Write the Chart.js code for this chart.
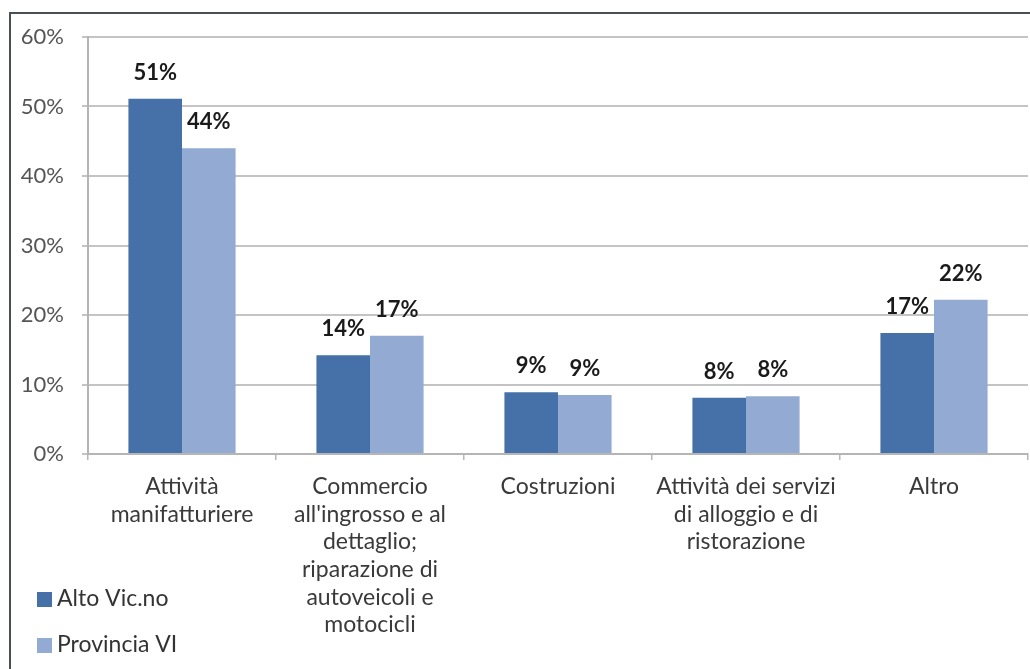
<!DOCTYPE html>
<html lang="it">
<head>
  <meta charset="UTF-8" />
  <title>Settori</title>
  <script src="https://cdn.jsdelivr.net/npm/chart.js"></script>
  <style>
    html, body { margin: 0; padding: 0; background: #fff; }
    #wrap { position: relative; width: 1030px; height: 669px; overflow: hidden; }
    #frame { position: absolute; left: 9px; top: 12px; width: 1030px; height: 700px;
             border-left: 2px solid #4a4f55; border-top: 2px solid #4a4f55; }
    canvas { position: absolute; left: 0; top: 0; }
  </style>
</head>
<body>
  <div id="wrap">
    <div id="frame"></div>
    <canvas id="chart" width="1030" height="669"></canvas>
  </div>

  <script>
    const categories = [
      ['Attività', 'manifatturiere'],
      ['Commercio', "all'ingrosso e al", 'dettaglio;', 'riparazione di', 'autoveicoli e', 'motocicli'],
      ['Costruzioni'],
      ['Attività dei servizi', 'di alloggio e di', 'ristorazione'],
      ['Altro']
    ];
    const altoVicno = [51.1, 14.2, 8.9, 8.1, 17.4];
    const provinciaVI = [44.0, 17.0, 8.5, 8.3, 22.2];
    const seriesNames = ['Alto Vic.no', 'Provincia VI'];
    const yTicks = [0, 10, 20, 30, 40, 50, 60];

    const FONT = 'Lato, "Open Sans", sans-serif';

    // value labels above bars
    const valueLabels = {
      id: 'valueLabels',
      afterDatasetsDraw(chart) {
        const ctx = chart.ctx;
        ctx.save();
        ctx.font = 'bold 22px ' + FONT;
        ctx.fillStyle = '#1a1a1a';
        ctx.textAlign = 'center';
        ctx.textBaseline = 'middle';
        chart.data.datasets.forEach((ds, i) => {
          chart.getDatasetMeta(i).data.forEach((bar, j) => {
            ctx.fillText(Math.round(ds.data[j]) + '%', bar.x, bar.y - 26);
          });
        });
        ctx.restore();
      }
    };

    // legend in bottom-left corner
    const cornerLegend = {
      id: 'cornerLegend',
      afterDraw(chart) {
        const ctx = chart.ctx;
        ctx.save();
        ctx.font = '23px ' + FONT;
        ctx.textBaseline = 'middle';
        chart.data.datasets.forEach((ds, i) => {
          const y = 599 + i * 46;
          ctx.fillStyle = ds.backgroundColor;
          ctx.fillRect(37, y - 7, 15, 15);
          ctx.fillStyle = '#333';
          ctx.fillText(ds.label, 57, y);
        });
        ctx.restore();
      }
    };

    new Chart(document.getElementById('chart'), {
      type: 'bar',
      data: {
        labels: categories,
        datasets: [
          { label: seriesNames[0], data: altoVicno, backgroundColor: '#4571a8' },
          { label: seriesNames[1], data: provinciaVI, backgroundColor: '#93aad2' }
        ]
      },
      options: {
        responsive: false,
        animation: false,
        devicePixelRatio: 1,
        layout: { padding: { left: 0, right: 2, top: 37, bottom: 0 } },
        categoryPercentage: 0.57,
        barPercentage: 1.0,
        plugins: {
          legend: { display: false },
          tooltip: { enabled: false }
        },
        scales: {
          x: {
            grid: { drawOnChartArea: false, drawTicks: true, tickLength: 6, offset: true, color: '#b5b5b5', lineWidth: 1.5 },
            border: { color: '#b5b5b5', width: 2 },
            ticks: {
              color: '#3a3a3a',
              font: { family: FONT, size: 23, lineHeight: 1.2 },
              padding: 13,
              maxRotation: 0,
              autoSkip: false
            },
            afterFit(scale) { scale.height = 669 - 454; }
          },
          y: {
            min: 0,
            max: 60,
            afterBuildTicks(scale) { scale.ticks = yTicks.map(v => ({ value: v })); },
            grid: { color: '#c4c4c4', lineWidth: 2, tickLength: 6 },
            border: { color: '#b5b5b5', width: 2 },
            ticks: {
              color: '#555',
              font: { family: FONT, size: 22 },
              padding: 18,
              callback: v => v + '%'
            },
            afterFit(scale) { scale.width = 88; }
          }
        }
      },
      plugins: [valueLabels, cornerLegend]
    });
  </script>
</body>
</html>
